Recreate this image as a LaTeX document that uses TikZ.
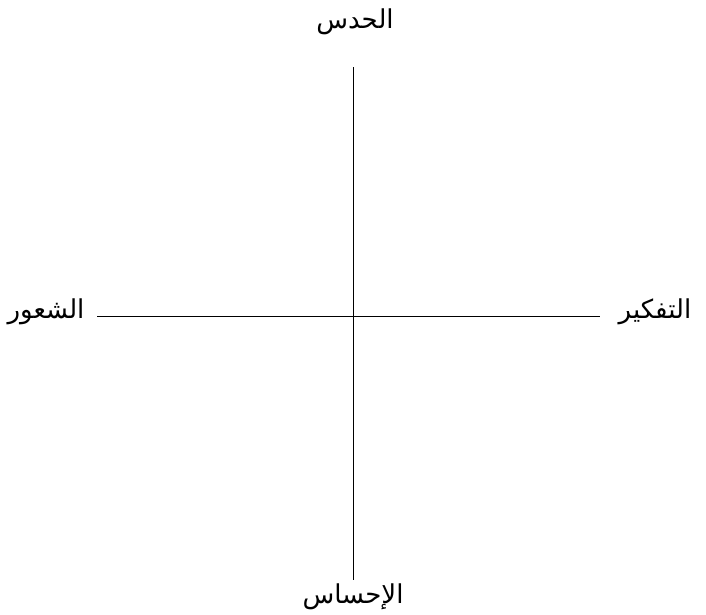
\documentclass[tikz,border=0pt]{standalone}
\usepackage{fontspec}
\newfontfamily\arabicfont[Script=Arabic]{DejaVu Sans}
\TeXXeTstate=1

\begin{document}
\begin{tikzpicture}[x=1pt, y=-1pt,
  axisline/.style={black, line width=0.8pt},
  axislabel/.style={font=\arabicfont\fontsize{26}{30}\selectfont, inner sep=0pt}]
\useasboundingbox (0,0) rectangle (706,614);
% axes
\coordinate (north) at (353,67);
\coordinate (south) at (353,580);
\coordinate (west) at (97,316);
\coordinate (east) at (600,316);
\draw[axisline] (north) -- (south);
\draw[axisline] (west) -- (east);
% labels
\node[axislabel] (intuition) at (355,22) {\beginR الحدس\endR};
\node[axislabel] (sensation) at (353,597) {\beginR الإحساس\endR};
\node[axislabel] (feeling) at (46,312) {\beginR الشعور\endR};
\node[axislabel] (thinking) at (655,312) {\beginR التفكير\endR};
\end{tikzpicture}
\end{document}
